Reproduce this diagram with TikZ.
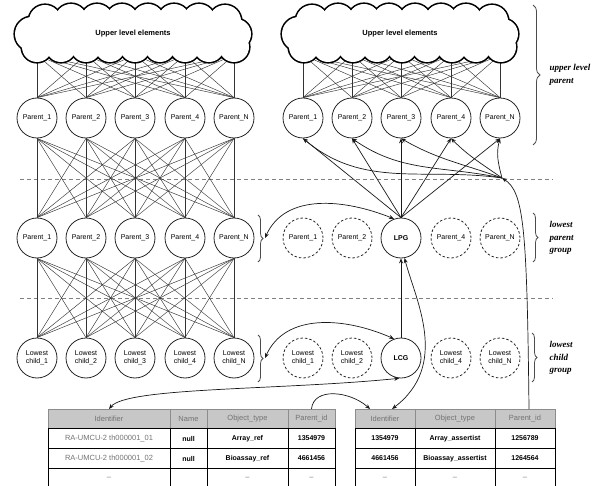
\documentclass[tikz,border=0pt]{standalone}
\usepackage{fontspec}
\setmainfont{Liberation Sans}
\newfontfamily\labfont{Liberation Serif}
\usetikzlibrary{arrows.meta,decorations.pathreplacing}
\tikzset{
 pc/.style={circle,draw=black!85,line width=0.8pt,minimum size=40pt,inner sep=0pt,align=center,font=\fontsize{7}{8}\selectfont},
 pdash/.style={pc,dash pattern=on 2.5pt off 2pt},
 ln/.style={draw=black!80,line width=0.45pt},
 arr/.style={draw=black!90,line width=0.7pt,-{Stealth[length=5pt,width=4pt]}},
 darr/.style={draw=black!90,line width=0.7pt,{Stealth[length=5pt,width=4pt]}-{Stealth[length=5pt,width=4pt]}},
 sep/.style={draw=black!50,line width=0.8pt,dash pattern=on 4pt off 3pt},
 brc/.style={draw=black!70,line width=0.8pt,decorate,decoration={brace,amplitude=5pt}},
 lab/.style={anchor=west,align=left,font=\labfont\bfseries\itshape\fontsize{9}{12.5}\selectfont},
 hcell/.style={rectangle,draw=black!45,fill=black!22,line width=0.6pt,minimum height=19.5pt,inner sep=0pt,outer sep=0pt,anchor=north west,font=\fontsize{7.5}{8}\selectfont,text=black!55},
 bcell/.style={rectangle,draw=black,line width=0.8pt,minimum height=20pt,inner sep=0pt,outer sep=0pt,anchor=north west,font=\bfseries\fontsize{7}{8}\selectfont},
 gcell/.style={bcell,font=\fontsize{7.5}{8}\selectfont,text=black!55},
 cloudtext/.style={font=\bfseries\fontsize{7.5}{8}\selectfont},
}
\def\puffs{45/21/16,71/20/16,97/20/16,122/20/16,148/20/16,174/20/16,199/20/16,225/21/16,37/47/15,61/47/15,86/47/15,110/47/15,135/47/15,160/47/15,185/47/15,209/47/15,234/47/15,32/34/17,236/34/15}
\begin{document}
\begin{tikzpicture}[x=1pt,y=-1pt]
\useasboundingbox (0,0) rectangle (607,486);
% separators
\draw[sep] (20,179) -- (553,179);
\draw[sep] (20,298) -- (553,298);
% left columns
\foreach \n/\x/\t in {1/37/1,2/86/2,3/135/3,4/185/4,5/234/N}{
  \node[pc] (a\n) at (\x,118) {Parent\_\t};
  \node[pc] (b\n) at (\x,238) {Parent\_\t};
  \node[pc] (c\n) at (\x,358) {Lowest\\child\_\t};
  \coordinate (cL\n) at (\x,55);
}
% right columns
\foreach \n/\x/\t in {1/303/1,2/352/2,3/401/3,4/451/4,5/500/N}{
  \node[pc] (d\n) at (\x,118) {Parent\_\t};
  \coordinate (cR\n) at (\x,55);
}
\node[pdash] (e1) at (303,238) {Parent\_1};
\node[pdash] (e2) at (352,238) {Parent\_2};
\node[pc,font=\bfseries\fontsize{7}{8}\selectfont] (lpg) at (401,238) {LPG};
\node[pdash] (e4) at (451,238) {Parent\_4};
\node[pdash] (e5) at (500,238) {Parent\_N};
\node[pdash] (f1) at (303,358) {Lowest\\child\_1};
\node[pdash] (f2) at (352,358) {Lowest\\child\_2};
\node[pc,font=\bfseries\fontsize{7}{8}\selectfont] (lcg) at (401,358) {LCG};
\node[pdash] (f4) at (451,358) {Lowest\\child\_4};
\node[pdash] (f5) at (500,358) {Lowest\\child\_N};
% full connections
\foreach \i in {1,...,5}{\foreach \j in {1,...,5}{
  \draw[ln] (cL\i) -- (a\j.north);
  \draw[ln] (cR\i) -- (d\j.north);
  \draw[ln] (a\i.south) -- (b\j.north);
  \draw[ln] (b\i.south) -- (c\j.north);
}}
% clouds
\foreach \dx/\nm in {0/cloudL,267/cloudR}{
 \begin{scope}[xshift=\dx pt]
  \foreach \cx/\cy/\r in \puffs {\draw[line width=3.2pt,black] (\cx,\cy) circle[radius=\r];}
  \foreach \cx/\cy/\r in \puffs {\fill[white] (\cx,\cy) circle[radius=\r];}
  \fill[white] (35,21) rectangle (232,47);
  \node[cloudtext] (\nm) at (133,34) {Upper level elements};
 \end{scope}
}
% tables
\node[hcell,minimum width=122pt] (tL1) at (48,409) {Identifier};
\node[hcell,minimum width=37pt] (tL2) at (170,409) {Name};
\node[hcell,minimum width=81pt] (tL3) at (207,409) {Object\_type};
\node[hcell,minimum width=47pt] (tL4) at (288,409) {Parent\_id};
\node[gcell,minimum width=122pt] (l11) at (48,428.5) {RA-UMCU-2 th000001\_01};
\node[bcell,minimum width=37pt] (l12) at (170,428.5) {null};
\node[bcell,minimum width=81pt] (l13) at (207,428.5) {Array\_ref};
\node[bcell,minimum width=47pt] (l14) at (288,428.5) {1354979};
\node[gcell,minimum width=122pt] (l21) at (48,448.5) {RA-UMCU-2 th000001\_02};
\node[bcell,minimum width=37pt] (l22) at (170,448.5) {null};
\node[bcell,minimum width=81pt] (l23) at (207,448.5) {Bioassay\_ref};
\node[bcell,minimum width=47pt] (l24) at (288,448.5) {4661456};
\node[gcell,minimum width=122pt] (l31) at (48,468.5) {--};
\node[gcell,minimum width=37pt] (l32) at (170,468.5) {};
\node[gcell,minimum width=81pt] (l33) at (207,468.5) {--};
\node[gcell,minimum width=47pt] (l34) at (288,468.5) {--};
\node[hcell,minimum width=60pt] (tR1) at (355,409) {Identifier};
\node[hcell,minimum width=80pt] (tR2) at (415,409) {Object\_type};
\node[hcell,minimum width=60pt] (tR3) at (495,409) {Parent\_id};
\node[bcell,minimum width=60pt] (r11) at (355,428.5) {1354979};
\node[bcell,minimum width=80pt] (r12) at (415,428.5) {Array\_assertist};
\node[bcell,minimum width=60pt] (r13) at (495,428.5) {1256789};
\node[bcell,minimum width=60pt] (r21) at (355,448.5) {4661456};
\node[bcell,minimum width=80pt] (r22) at (415,448.5) {Bioassay\_assertist};
\node[bcell,minimum width=60pt] (r23) at (495,448.5) {1264564};
\node[gcell,minimum width=60pt] (r31) at (355,468.5) {--};
\node[gcell,minimum width=80pt] (r32) at (415,468.5) {--};
\node[gcell,minimum width=60pt] (r33) at (495,468.5) {--};
% arrows
\coordinate (J) at (502,178);
\coordinate (bb1) at (265,238);
\coordinate (bb2) at (265,358);
\foreach \n in {1,...,5}{\draw[arr] (lpg.north) -- (d\n.south);}
\draw[arr] (J) to[out=172,in=-40] (d1.south);
\draw[arr] (J) to[out=168,in=-35] (d2.south);
\draw[arr] (J) to[out=160,in=-30] (d3.south);
\draw[arr] (J) to[out=145,in=-45] (d4.south);
\draw[arr] (J) to[out=105,in=-105] (d5.south);
\draw[darr] (bb1) .. controls +(20,-45) and +(-50,-20) .. (lpg.110);
\draw[darr] (bb2) .. controls +(20,-45) and +(-50,-22) .. (lcg.110);
\draw[arr] (lcg.north) -- (lpg.south);
\draw[darr] (tL1.north) .. controls +(18,-22) and +(-120,12) .. (lcg.265);
\draw[arr] (tL4.north) .. controls +(2,-22) and +(-20,-18) .. ([xshift=-15pt]tR1.north);
\draw[darr] ([xshift=7pt]tR1.north) .. controls +(58,-44) and +(11,42) .. (lpg.-80);
\draw[arr] ([xshift=4pt]tR3.north) .. controls +(-2,-180) and +(22,14) .. (J);
% braces
\draw[brc,decoration={brace,amplitude=7pt}] (533,5) -- (533,145);
\draw[brc] (533,213) -- (533,262);
\draw[brc] (532,333) -- (532,382);
\draw[brc] (258,215) -- (258,262);
\draw[brc] (258,335) -- (258,382);
% labels
\node[lab] (lu) at (546,75) {upper level\\parent};
\node[lab] (lp) at (546,238) {lowest\\parent\\group};
\node[lab] (lc) at (546,358) {lowest\\child\\group};
\end{tikzpicture}
\end{document}
